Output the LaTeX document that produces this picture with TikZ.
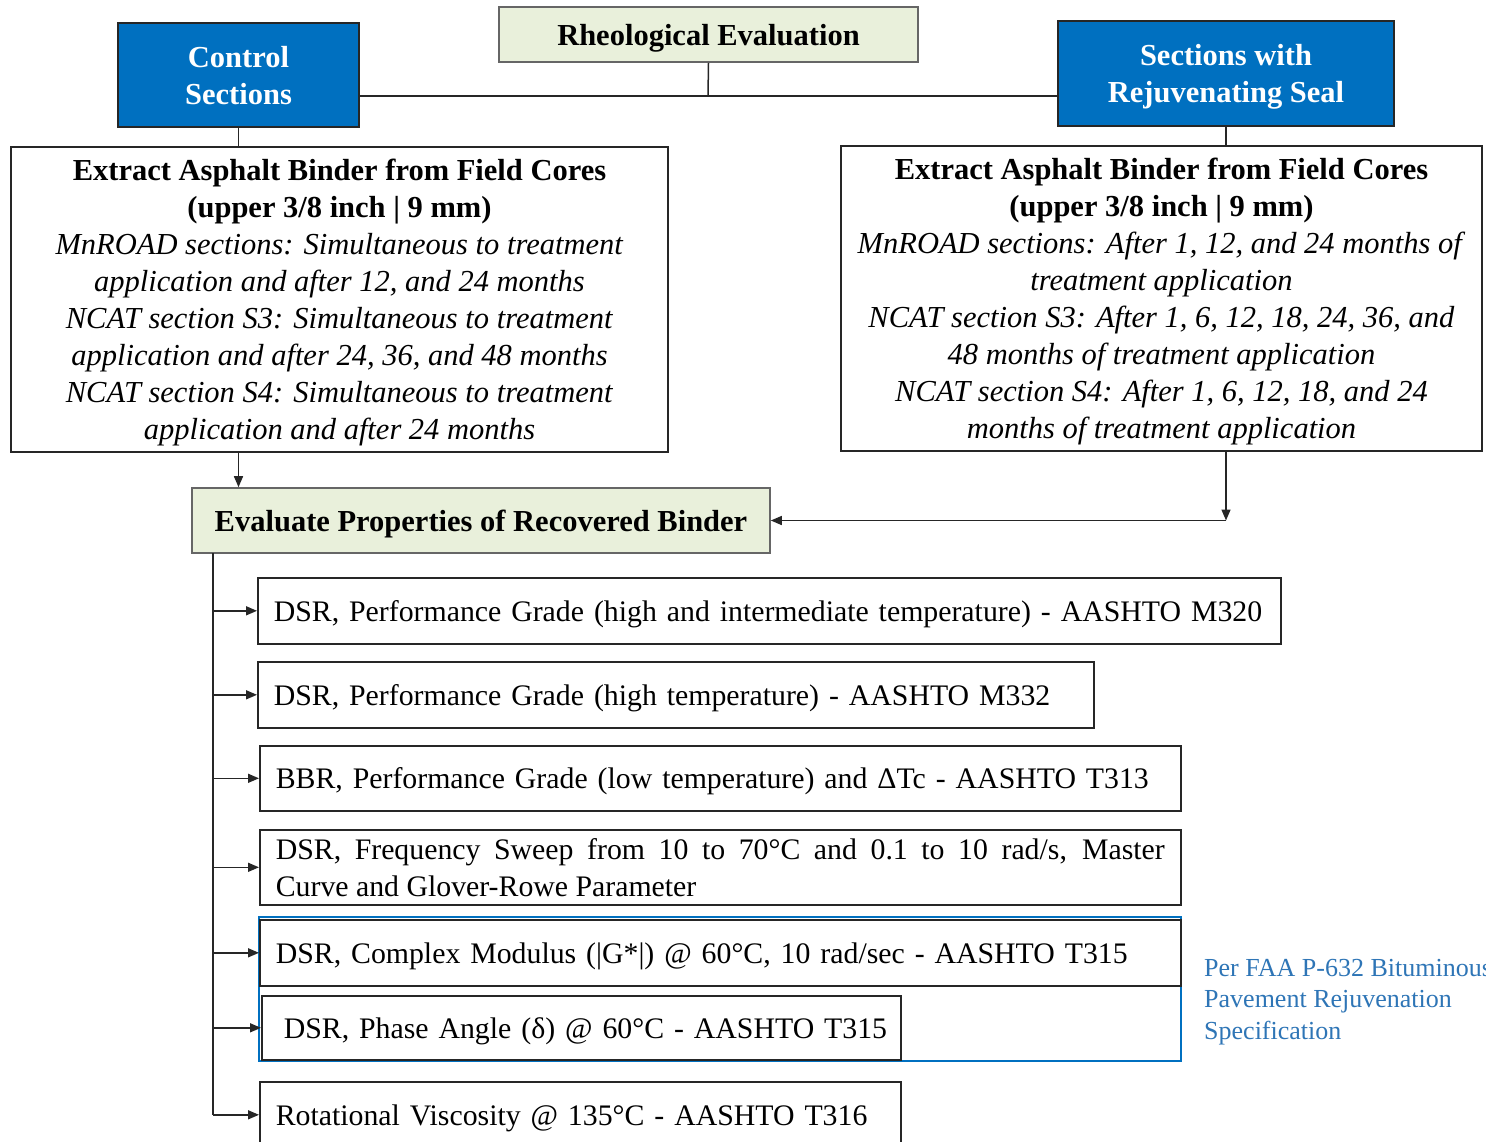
\documentclass[tikz,border=0pt]{standalone}
\usepackage{fontspec}
\setmainfont{Liberation Serif}
\usetikzlibrary{arrows.meta}
\definecolor{hdrblue}{HTML}{0070C0}
\definecolor{palegreen}{HTML}{E9F0DB}
\definecolor{specblue}{HTML}{2E75B6}
\begin{document}
\begin{tikzpicture}[x=1pt,y=1pt,
  box/.style={draw=black!85, line width=1.6pt, inner sep=0pt},
  bluehdr/.style={box, text depth=0pt, fill=hdrblue, text=white, font=\fontsize{30.5}{37}\selectfont\bfseries, align=center},
  greenhdr/.style={box, text depth=0pt, fill=palegreen, draw=black!60, font=\fontsize{30.5}{37}\selectfont\bfseries, align=center},
  textbox/.style={box, text depth=0pt, align=center, font=\fontsize{30.5}{37}\selectfont},
  multibox/.style={box, anchor=north west, inner xsep=16pt, font=\fontsize{29.8}{37}\selectfont},
  itembox/.style={multibox, text depth=0pt, align=left},
  conn/.style={line width=1.5pt, draw=black!85},
  arr/.style={conn, -{Triangle[length=11pt,width=9pt]}},
]
\useasboundingbox (0,0) rectangle (1486,-1141);
\clip (0,0) rectangle (1486,-1141);

% top row
\node[greenhdr, minimum width=419pt, minimum height=55pt] (rheo) at (708.5,-34.5) {Rheological Evaluation};
\node[bluehdr, minimum width=241pt, minimum height=104pt] (ctrl) at (238.5,-75) {Control\\Sections};
\node[bluehdr, minimum width=336pt, minimum height=105pt] (rejuv) at (1226,-73.5) {Sections with\\Rejuvenating Seal};
\coordinate (junc) at (708,-96);
\draw[conn] (rheo.south) -- (junc);
\draw[conn] (ctrl.east |- junc) -- (rejuv.west |- junc);

% extraction boxes
\node[textbox, minimum width=657pt, minimum height=305pt] (lbox) at (339.5,-299.5) {%
\textbf{Extract Asphalt Binder from Field Cores}\\
\textbf{(upper 3/8 inch | 9 mm)}\\
\textit{MnROAD sections: Simultaneous to treatment}\\
\textit{application and after 12, and 24 months}\\
\textit{NCAT section S3: Simultaneous to treatment}\\
\textit{application and after 24, 36, and 48 months}\\
\textit{NCAT section S4: Simultaneous to treatment}\\
\textit{application and after 24 months}};
\node[textbox, minimum width=641pt, minimum height=305pt] (rbox) at (1161.5,-298.5) {%
\textbf{Extract Asphalt Binder from Field Cores}\\
\textbf{(upper 3/8 inch | 9 mm)}\\
\textit{MnROAD sections: After 1, 12, and 24 months of}\\
\textit{treatment application}\\
\textit{NCAT section S3: After 1, 6, 12, 18, 24, 36, and}\\
\textit{48 months of treatment application}\\
\textit{NCAT section S4: After 1, 6, 12, 18, and 24}\\
\textit{months of treatment application}};
\draw[conn] (ctrl.south) -- (ctrl.south |- lbox.north);
\draw[conn] (rejuv.south) -- (rejuv.south |- rbox.north);

% evaluate box
\node[greenhdr, minimum width=578pt, minimum height=65pt] (eval) at (481,-520.5) {Evaluate Properties of Recovered Binder};
\draw[arr] (ctrl.south |- lbox.south) -- (ctrl.south |- eval.north);
\coordinate (rc) at (rejuv.south |- eval.east);
\draw[arr] (rejuv.south |- rbox.south) -- (rc);
\draw[arr] (rc) -- (eval.east);

% FAA group outline
\draw[hdrblue, line width=2.2pt] (259,-917) rectangle (1181,-1061);

% items
\node[itembox, text width=991pt, minimum height=66pt] (i1) at (257,-577) {DSR, Performance Grade (high and intermediate temperature) - AASHTO M320};
\node[itembox, text width=804pt, minimum height=66pt] (i2) at (257,-661) {DSR, Performance Grade (high temperature) - AASHTO M332};
\node[itembox, text width=889pt, minimum height=65pt] (i3) at (259,-745) {BBR, Performance Grade (low temperature) and ΔTc - AASHTO T313};
\node[multibox, text width=889pt, minimum height=75pt, align=justify] (i4) at (259,-829) {DSR, Frequency Sweep from 10 to 70°C and 0.1 to 10 rad/s, Master\linebreak Curve and Glover-Rowe Parameter};
\node[itembox, text width=889pt, minimum height=66pt] (i5) at (259,-919) {DSR, Complex Modulus (|G*|) @ 60°C, 10 rad/sec - AASHTO T315};
\node[itembox, inner xsep=10pt, text width=619pt, minimum height=64pt] (i6) at (261,-995) {\hspace*{12pt}DSR, Phase Angle (δ) @ 60°C - AASHTO T315};
\node[itembox, text width=609pt, minimum height=66pt] (i7) at (259,-1081) {Rotational Viscosity @ 135°C - AASHTO T316};

\coordinate (sp) at (213,-553);
\draw[conn] (sp) -- (sp |- i7.west);
\foreach \n in {i1,i2,i3,i4,i5,i6,i7} {
  \draw[arr] (sp |- \n.west) -- (\n.west);
}

% FAA label
\node[anchor=north west, inner sep=0pt, align=left, text=specblue, font=\fontsize{26}{31.5}\selectfont] (faa) at (1204,-959) {Per FAA P-632 Bituminous\\Pavement Rejuvenation\\Specification};
\end{tikzpicture}
\end{document}
